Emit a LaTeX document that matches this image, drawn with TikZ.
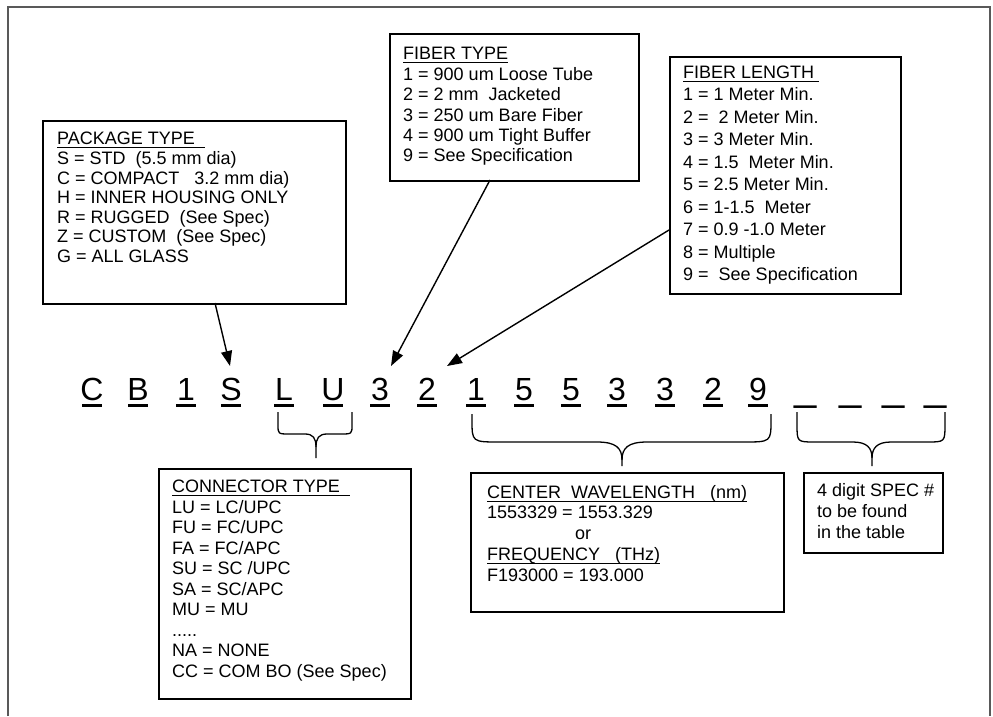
\documentclass[tikz,border=0pt]{standalone}
\usepackage{fontspec}
\setmainfont{Liberation Sans}
\usetikzlibrary{arrows.meta}
\newcommand\myul[1]{\underline{\raisebox{0pt}[\height][1.6pt]{#1}}}
\begin{document}
\begin{tikzpicture}[x=1pt,y=-1pt,
  box/.style={draw, line width=2.4pt, anchor=north west, inner sep=0pt},
  txt/.style={anchor=base west, inner sep=0pt, font=\fontsize{18}{20}\selectfont},
  ctxt/.style={anchor=base, inner sep=0pt, font=\fontsize{18}{20}\selectfont},
  code/.style={anchor=base, inner sep=0pt, font=\fontsize{32}{36}\selectfont},
  dashc/.style={anchor=base, inner sep=0pt, font=\fontsize{40}{44}\selectfont},
  uline/.style={line width=2.2pt},
  arr/.style={line width=1.4pt, -{Triangle[length=15pt,width=11pt]}},
  brace/.style={line width=1.3pt},
  frame/.style={line width=1.6pt, black!65}]
\useasboundingbox (0,0) rectangle (993,716);
\draw[frame] (8,716) -- (8,7) -- (990,7) -- (990,716);

% ---- PACKAGE TYPE
\node[box, minimum width=303pt, minimum height=183pt] (pkg) at (42,120) {};
\node[txt] (p0) at (57,144) {\myul{PACKAGE TYPE\ \ }};
\node[txt] (p1) at (57,164) {S = STD\ \ (5.5 mm dia)};
\node[txt] (p2) at (57,184) {C = COMPACT\ \ \ 3.2 mm dia)};
\node[txt] (p3) at (57,203) {H = INNER HOUSING ONLY};
\node[txt] (p4) at (57,223) {R = RUGGED\ \ (See Spec)};
\node[txt] (p5) at (57,242) {Z = CUSTOM\ \ (See Spec)};
\node[txt] (p6) at (57,262) {G = ALL GLASS};

% ---- FIBER TYPE
\node[box, minimum width=249pt, minimum height=147pt] (ft) at (389,33) {};
\node[txt] (f0) at (403,59) {\myul{FIBER TYPE}};
\node[txt] (f1) at (403,80) {1 = 900 um Loose Tube};
\node[txt] (f2) at (403,100) {2 = 2 mm\ \ Jacketed};
\node[txt] (f3) at (403,121) {3 = 250 um Bare Fiber};
\node[txt] (f4) at (403,141) {4 = 900 um Tight Buffer};
\node[txt] (f5) at (403,161) {9 = See Specification};

% ---- FIBER LENGTH
\node[box, minimum width=231pt, minimum height=237pt] (fl) at (669,56) {};
\node[txt] (l0) at (683,78) {\myul{FIBER LENGTH\ }};
\node[txt] (l1) at (683,100.5) {1 = 1 Meter Min.};
\node[txt] (l2) at (683,123) {2 =\ \ 2 Meter Min.};
\node[txt] (l3) at (683,145.5) {3 = 3 Meter Min.};
\node[txt] (l4) at (683,168) {4 = 1.5\ \ Meter Min.};
\node[txt] (l5) at (683,190.5) {5 = 2.5 Meter Min.};
\node[txt] (l6) at (683,213) {6 = 1-1.5\ \ Meter};
\node[txt] (l7) at (683,235.5) {7 = 0.9 -1.0 Meter};
\node[txt] (l8) at (683,258) {8 = Multiple};
\node[txt] (l9) at (683,280.5) {9 =\ \ See Specification};

% ---- code line
\foreach \ch/\px [count=\i] in {C/92,B/138,1/186,S/231,L/284,U/333,3/380,2/427,1/476,5/524,5/571,3/617,3/665,2/713,9/758}{
  \node[code] (c\i) at (\px,400) {\ch};
  \draw[uline] (\px-10,405.5) -- (\px+10,405.5);
}
\node[dashc] (d1) at (806,400) {\_};
\node[dashc] (d2) at (851,400) {\_};
\node[dashc] (d3) at (894,400) {\_};
\node[dashc] (d4) at (936,400) {\_};

% ---- arrows
\coordinate (pkgout) at (215,303);
\coordinate (pkgtip) at (230,366);
\coordinate (ftout) at (490,180);
\coordinate (fttip) at (391,366);
\coordinate (flout) at (669,230);
\coordinate (fltip) at (447,366);
\draw[arr] (pkgout) -- (pkgtip);
\draw[arr] (ftout) -- (fttip);
\draw[arr] (flout) -- (fltip);

% ---- braces
\draw[brace] (278,412) -- (278,425) .. controls (278,434) .. (290,434) -- (305,434) .. controls (313,434) and (316,438) .. (316,447) -- (316,458);
\draw[brace] (352,412) -- (352,425) .. controls (352,434) .. (340,434) -- (327,434) .. controls (319,434) and (316,438) .. (316,447);
\draw[brace] (472,414) -- (472,420) .. controls (472,442) .. (500,442) -- (597,442) .. controls (616,442) and (622,448) .. (622,460) -- (622,466);
\draw[brace] (771,414) -- (771,420) .. controls (771,442) .. (743,442) -- (647,442) .. controls (628,442) and (622,448) .. (622,460);
\draw[brace] (797,412) -- (797,424) .. controls (797,442) .. (815,442) -- (853,442) .. controls (867,442) and (872,448) .. (872,458) -- (872,466);
\draw[brace] (945,412) -- (945,424) .. controls (945,442) .. (927,442) -- (891,442) .. controls (877,442) and (872,448) .. (872,458);

% ---- CONNECTOR TYPE
\node[box, minimum width=252pt, minimum height=230pt] (con) at (158,468) {};
\node[txt] (k0) at (172,492) {\myul{CONNECTOR TYPE\ \ }};
\node[txt] (k1) at (172,513) {LU = LC/UPC};
\node[txt] (k2) at (172,533.5) {FU = FC/UPC};
\node[txt] (k3) at (172,554) {FA = FC/APC};
\node[txt] (k4) at (172,574.5) {SU = SC /UPC};
\node[txt] (k5) at (172,595) {SA = SC/APC};
\node[txt] (k6) at (172,615.5) {MU = MU};
\node[txt] (k7) at (172,636) {.....};
\node[txt] (k8) at (172,656.5) {NA = NONE};
\node[txt] (k9) at (172,677) {CC = COM BO (See Spec)};

% ---- CENTER WAVELENGTH
\node[box, minimum width=313pt, minimum height=139pt] (cw) at (470,472) {};
\node[txt] (w0) at (487,498) {\myul{CENTER\ \ WAVELENGTH\ \ \ (nm)}};
\node[txt] (w1) at (487,518.5) {1553329 = 1553.329};
\node[ctxt] (w2) at (583,539) {or};
\node[txt] (w3) at (487,560) {\myul{FREQUENCY\ \ \ (THz)}};
\node[txt] (w4) at (487,581) {F193000 = 193.000};

% ---- SPEC
\node[box, minimum width=139pt, minimum height=80pt] (sp) at (803,472) {};
\node[txt] (s1) at (817,496) {4 digit SPEC \#};
\node[txt] (s2) at (817,517) {to be found};
\node[txt] (s3) at (817,538) {in the table};
\end{tikzpicture}
\end{document}
